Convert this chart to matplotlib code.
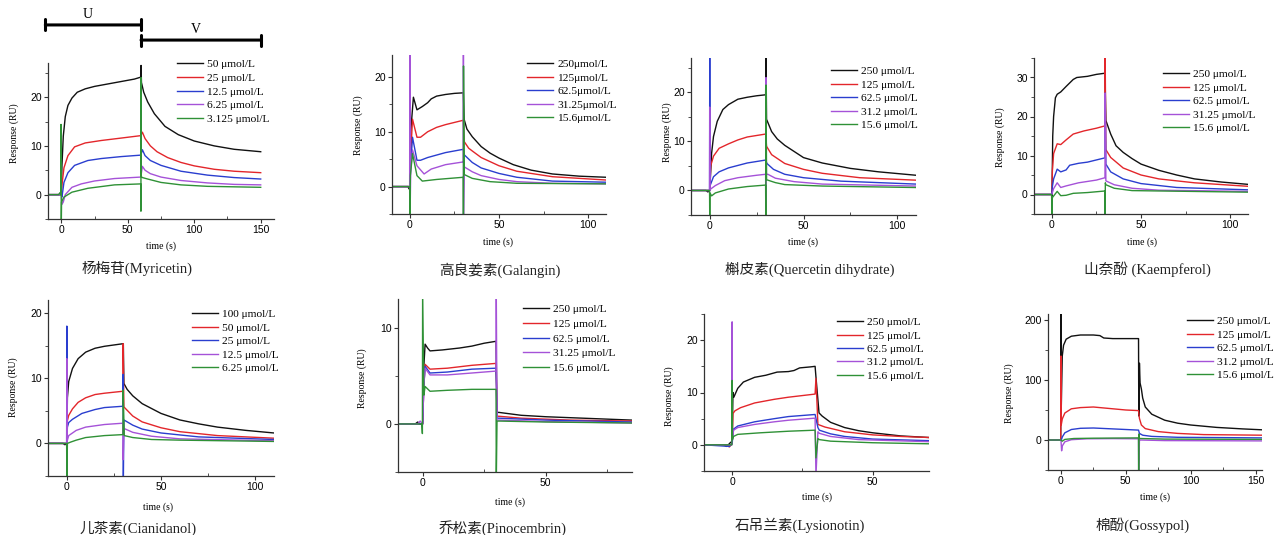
import matplotlib
matplotlib.use('Agg')
import matplotlib.pyplot as plt
from matplotlib.ticker import MultipleLocator

W, H = 1277, 535

# ---- 杨梅苷 (Myricetin) ----
myr_labels = ['50 μmol/L', '25 μmol/L', '12.5 μmol/L', '6.25 μmol/L', '3.125 μmol/L']
myr_t = [
    [-10, -1, 0, 0.5, 1.5, 3, 5, 8, 12, 18, 25, 35, 45, 55, 59.8, 60, 60.3, 62, 65, 70, 78, 88, 100, 115, 130, 150],
    [-10, 0, 0.5, 2, 5, 10, 18, 30, 45, 59.8, 61, 63, 67, 72, 80, 90, 100, 115, 130, 150],
    [-10, 0, 0.5, 2, 5, 10, 20, 30, 45, 59.8, 61, 63, 67, 75, 90, 110, 130, 150],
    [-10, 0, 0.5, 1.5, 3, 8, 15, 25, 40, 59.8, 61, 63, 67, 75, 90, 110, 130, 150],
    [-10, -2, -1, -0.3, -0.2, 0, 0.2, 2, 8, 20, 40, 59.8, 59.9, 60, 60.1, 61, 65, 75, 90, 110, 150],
]
myr_y = [
    [0, 0, 0, 6, 12, 16, 18.3, 19.8, 21, 21.7, 22.2, 22.7, 23.2, 23.7, 24.1, 26.5, 23, 21, 19, 16.6, 14, 12.3, 11, 10, 9.3, 8.8],
    [0, 0, 2, 5.5, 8, 9.8, 10.6, 11.1, 11.6, 12.1, 12.8, 11.5, 10, 8.8, 7.6, 6.6, 5.9, 5.2, 4.8, 4.5],
    [0, 0, -0.5, 2.5, 4.5, 6, 7, 7.4, 7.8, 8.1, 9.2, 8, 7, 6, 4.8, 4, 3.5, 3.2],
    [0, 0, -2, -1.5, 0, 1.5, 2.2, 2.8, 3.3, 3.6, 5.8, 5, 4.3, 3.6, 2.9, 2.4, 2.1, 2],
    [0, 0, 0.4, 0, 14.4, -6, -1.5, -0.5, 0.5, 1.3, 2, 2.2, -3.4, 24, 3.7, 3.5, 3.2, 2.5, 2, 1.7, 1.5],
]
phase_names = ['U', 'V']
phase_start = [-12, 60]
phase_end = [60, 150]

# ---- 高良姜素 (Galangin) ----
gal_labels = ['250μmol/L', '125μmol/L', '62.5μmol/L', '31.25μmol/L', '15.6μmol/L']
gal_t = [
    [-10, -1, -0.5, 0, 0.5, 2, 4, 7, 10, 12, 15, 20, 25, 30, 30.5, 32, 35, 40, 45, 50, 58, 68, 80, 95, 110],
    [-10, 0, 0.5, 1.5, 4, 6, 10, 15, 20, 25, 30, 30.5, 33, 35, 40, 50, 60, 80, 110],
    [-10, 0, 0.5, 1.5, 4, 6, 10, 20, 30, 30.5, 35, 40, 50, 60, 80, 110],
    [-10, -0.1, 0, 0.1, 0.5, 1.5, 4, 8, 12, 20, 30, 30.05, 30.1, 30.5, 35, 40, 50, 60, 80, 110],
    [-10, -0.1, 0, 0.3, 1.5, 4, 7, 15, 30, 30.05, 30.1, 30.5, 35, 45, 60, 110],
]
gal_y = [
    [0, 0, -0.4, 0, 10, 16.3, 14, 14.6, 15.3, 16, 16.5, 16.8, 17, 17.1, 12.2, 10.5, 9.1, 7.3, 6.1, 5.2, 4, 3, 2.3, 1.9, 1.7],
    [0, 0, 6, 12.3, 9, 9, 10, 10.8, 11.3, 11.7, 12.1, 8.2, 7, 6.5, 5.3, 3.8, 2.8, 1.8, 1.2],
    [0, 0, 4, 9, 4.8, 4.8, 5.3, 6.2, 6.8, 5.8, 4.4, 3.4, 2.4, 1.7, 1, 0.8],
    [0, 0, 30, -6, 3, 6.7, 3.8, 2.3, 3.2, 4, 4.5, 30, -6, 3.6, 2.7, 2, 1.3, 0.9, 0.6, 0.5],
    [0, 0, -6, 2, 6, 2, 1, 1.3, 1.7, -6, 22, 2.2, 1.5, 0.9, 0.6, 0.5],
]

# ---- 槲皮素 (Quercetin dihydrate) ----
que_labels = ['250 μmol/L', '125 μmol/L', '62.5 μmol/L', '31.2 μmol/L', '15.6 μmol/L']
que_t = [
    [-10, -2, -1, 0, 1, 2, 4, 7, 10, 15, 20, 25, 29.8, 30, 30.3, 33, 36, 40, 50, 60, 75, 90, 110],
    [-10, 0, 0.5, 2, 5, 10, 15, 20, 29.8, 30.3, 33, 40, 50, 60, 80, 110],
    [-10, -0.1, 0, 0.1, 0.5, 2, 5, 10, 20, 29.8, 30.5, 34, 40, 50, 70, 110],
    [-10, -0.1, 0, 0.1, 0.5, 3, 8, 15, 25, 29.8, 29.9, 30, 30.2, 31, 35, 45, 60, 110],
    [-10, -0.1, 0, 0.1, 1, 3, 10, 20, 29.8, 29.9, 30, 30.3, 31, 35, 40, 60, 110],
]
que_y = [
    [0, 0, -0.3, 0, 7.6, 11, 14.1, 16.5, 17.5, 18.6, 19, 19.3, 19.5, 27, 14.5, 12, 10.5, 9.2, 6.7, 5.6, 4.5, 3.8, 3.1],
    [0, 0, 5, 7, 8.6, 9.5, 10.3, 10.9, 11.5, 9, 7.3, 5.5, 4.3, 3.5, 2.6, 2.1],
    [0, 0, 28, 1, 1.3, 2.8, 3.8, 4.6, 5.6, 6.2, 5.5, 4.3, 3.3, 2.6, 1.9, 1.3],
    [0, 0, 17, 0, 0.3, 1, 2, 2.6, 3.1, 3.3, -4, 23, 3.3, 3.3, 2.5, 1.8, 1.3, 0.9],
    [0, 0, -6, -0.5, -1.1, -0.5, 0.3, 0.8, 1.1, -6, 21.5, 2.2, 2.1, 1.6, 1.2, 0.9, 0.6],
]

# ---- 山奈酚 (Kaempferol) ----
kae_labels = ['250 μmol/L', '125 μmol/L', '62.5 μmol/L', '31.25 μmol/L', '15.6 μmol/L']
kae_t = [
    [-10, -0.1, 0, 0.1, 0.5, 1, 2, 3, 5, 8, 12, 14, 20, 25, 29.8, 30.3, 33, 36, 40, 45, 50, 60, 70, 80, 95, 110],
    [-10, 0, 0.3, 1, 3, 5, 8, 12, 18, 25, 29.8, 29.9, 30.3, 33, 40, 50, 60, 80, 110],
    [-10, 0, 0.3, 1, 3, 5, 8, 10, 15, 20, 29.8, 29.9, 30.3, 33, 40, 50, 70, 110],
    [-10, 0, 0.3, 1, 3, 5, 8, 15, 25, 29.8, 29.9, 30.3, 35, 45, 60, 110],
    [-10, -0.1, 0, 0.3, 3, 5, 8, 12, 20, 29.8, 29.9, 30, 30.3, 35, 45, 110],
]
kae_y = [
    [0, 0, -6, 0, 15, 20, 24.8, 25.7, 26.3, 27.7, 29.5, 30, 30.3, 30.8, 31.1, 19, 15.5, 12.5, 10.8, 9.2, 7.8, 6.2, 5, 4, 3.2, 2.6],
    [0, 0, 6, 10.5, 13, 12.8, 14, 15.5, 16.3, 17, 17.6, 36, 11.5, 9.5, 6.8, 5, 4, 3, 2.1],
    [0, 0, 2, 4, 6.5, 5.8, 6.3, 7.5, 8, 8.3, 9.4, 26, 7.8, 5.8, 4, 2.8, 1.8, 1.2],
    [0, 0, 0.5, 1.5, 3, 1.8, 2.2, 3, 3.7, 4.3, 26, 3.5, 2.5, 1.6, 1.1, 0.8],
    [0, 0, -6, -0.8, 0.8, -0.3, -0.2, 0.3, 0.5, 0.9, -6, 3, 2.5, 1.6, 1, 0.6],
]

# ---- 儿茶素 (Cianidanol) ----
cia_labels = ['100 μmol/L', '50 μmol/L', '25 μmol/L', '12.5 μmol/L', '6.25 μmol/L']
cia_t = [
    [-10, -2, -1, 0, 0.3, 1, 3, 6, 10, 15, 20, 25, 30, 30.3, 32, 35, 40, 50, 60, 70, 80, 95, 110],
    [-10, 0, 0.3, 1, 3, 6, 10, 15, 20, 29.8, 29.9, 30.3, 35, 40, 50, 60, 80, 110],
    [-10, -0.1, 0, 0.1, 0.3, 1, 3, 8, 15, 20, 29.8, 29.9, 30, 30.3, 35, 40, 50, 70, 110],
    [-10, -0.1, 0, 0.1, 0.3, 1, 5, 10, 20, 29.8, 29.9, 30.3, 35, 45, 60, 110],
    [-10, -0.1, 0, 0.3, 2, 5, 10, 20, 29.8, 29.9, 30.5, 35, 45, 60, 110],
]
cia_y = [
    [0, 0, -0.2, 0, 7, 9.5, 11.5, 13, 14, 14.6, 14.9, 15.1, 15.3, 9.2, 8.3, 7.3, 6.1, 4.6, 3.6, 3, 2.5, 2, 1.6],
    [0, 0, 3.5, 4.3, 5.3, 6.3, 7, 7.5, 7.7, 8, 15.3, 5.6, 4.2, 3.3, 2.4, 1.8, 1.2, 0.8],
    [0, 0, 18, 1, 2.5, 3.2, 3.7, 4.6, 5.2, 5.5, 5.7, 10.6, -6, 3.6, 2.8, 2.2, 1.6, 1, 0.6],
    [0, 0, 13, 0, 0.5, 1.2, 2, 2.5, 2.9, 3.1, -2.5, 2.3, 1.7, 1.1, 0.7, 0.4],
    [0, 0, -6, 0, 0.2, 0.5, 0.9, 1.2, 1.35, 8.2, 1.2, 0.9, 0.6, 0.5, 0.3],
]

# ---- 乔松素 (Pinocembrin) ----
pin_labels = ['250 μmol/L', '125 μmol/L', '62.5 μmol/L', '31.25 μmol/L', '15.6 μmol/L']
pin_t = [
    [-10, -3, -2, -1, 0, 0.5, 1, 2, 3, 8, 15, 20, 25, 29.8, 30.2, 31, 40, 50, 60, 85],
    [-10, 0, 0.5, 1, 3, 10, 20, 29.8, 30.2, 31, 40, 60, 85],
    [-10, 0, 0.5, 1, 3, 10, 20, 29.8, 30.2, 31, 50, 85],
    [-10, -2, -1, 0, 0.5, 1, 3, 10, 20, 29.8, 29.9, 30.2, 31, 50, 85],
    [-10, -0.3, -0.1, 0, 0.5, 1, 3, 10, 20, 29.8, 29.9, 30.2, 31, 50, 85],
]
pin_y = [
    [0, 0, 0.2, 0, 0, 6, 8.3, 7.9, 7.6, 7.7, 7.9, 8.1, 8.4, 8.6, 1.2, 1.2, 0.9, 0.75, 0.65, 0.4],
    [0, 0, 4, 6.2, 5.7, 5.8, 6.1, 6.3, 0.8, 0.8, 0.6, 0.4, 0.3],
    [0, 0, 4, 6, 5.3, 5.4, 5.7, 5.8, 0.6, 0.6, 0.4, 0.2],
    [0, 0, 0.3, 0, 4, 5.8, 5.1, 5.1, 5.3, 5.5, 13.5, 0.4, 0.4, 0.25, 0.1],
    [0, 0, -1, 14, 3, 3.9, 3.4, 3.5, 3.6, 3.6, -6, 0.3, 0.3, 0.2, 0.1],
]

# ---- 石吊兰素 (Lysionotin) ----
lys_labels = ['250 μmol/L', '125 μmol/L', '62.5 μmol/L', '31.2 μmol/L', '15.6 μmol/L']
lys_t = [
    [-10, -3, -2, -1, -0.5, 0, 0.3, 0.6, 2, 4, 8, 12, 16, 20, 22, 24, 28, 29.5, 29.8, 30.9, 32, 35, 40, 45, 50, 60, 70],
    [-10, -2, -1, 0, 0.3, 1, 3, 8, 15, 20, 29.5, 29.8, 30.5, 33, 40, 50, 60, 70],
    [-10, -1, 0, 0.5, 2, 8, 15, 20, 29.5, 30.5, 31, 35, 40, 50, 70],
    [-10, -0.1, 0, 0.1, 0.5, 2, 8, 15, 20, 29.5, 29.8, 30.5, 31, 35, 45, 70],
    [-10, -0.1, 0, 0.1, 0.5, 2, 10, 20, 29.5, 29.8, 30.5, 31, 35, 50, 70],
]
lys_y = [
    [0, 0, -0.3, 0.2, 0.5, 0.3, 10, 9.1, 10.8, 12, 12.9, 13.3, 13.9, 14, 14.2, 14.7, 14.9, 15, 13, 6.1, 5.5, 4.3, 3.3, 2.7, 2.3, 1.7, 1.4],
    [0, 0, -0.4, 0.2, 6, 6.5, 7.1, 8, 8.7, 9.1, 9.7, 12.7, 3.9, 3.4, 2.5, 1.9, 1.6, 1.4],
    [0, -0.3, 0.2, 3, 3.6, 4.4, 5, 5.4, 5.8, 3.3, 2.8, 2.1, 1.6, 1.1, 0.8],
    [0, 0, 23.5, 1, 2.8, 3.3, 3.9, 4.4, 4.7, 5.1, -6, 2.5, 2.2, 1.6, 1, 0.6],
    [0, 0, 12.3, 1, 1.6, 2, 2.3, 2.6, 2.8, -2.5, 1.2, 1, 0.7, 0.4, 0.2],
]

# ---- 棉酚 (Gossypol) ----
gos_labels = ['250 μmol/L', '125 μmol/L', '62.5 μmol/L', '31.2 μmol/L', '15.6 μmol/L']
gos_t = [
    [-10, -0.2, 0, 0.2, 1, 2, 4, 8, 15, 25, 30, 33, 40, 50, 59.8, 60, 60.5, 61, 62, 63, 65, 70, 80, 90, 100, 120, 140, 155],
    [-10, -0.2, 0, 0.2, 1, 3, 8, 15, 25, 40, 50, 59.8, 60.5, 62, 65, 75, 90, 110, 155],
    [-10, 0, 0.3, 1, 3, 8, 15, 25, 40, 59.8, 60.5, 63, 70, 90, 155],
    [-10, 0, 0.5, 1, 3, 8, 20, 40, 59.8, 59.9, 60.5, 61, 80, 155],
    [-10, 0, 1, 3, 10, 25, 59.8, 59.9, 60, 60.5, 61, 80, 155],
]
gos_y = [
    [0, 0, 215, 50, 140, 158, 168, 173, 175, 175, 174, 170, 169, 169, 169, 40, 128, 95, 85, 70, 55, 43, 33, 28, 25, 21, 18.5, 17],
    [0, 0, 140, 25, 35, 45, 52, 54, 55, 52, 50, 49, 36, 25, 19, 14, 11, 9, 8],
    [0, 0, 0, 5, 12, 17.5, 19.5, 20, 18.5, 16.5, 11, 8, 6, 4.5, 3.5],
    [0, 0, -18, -10, -3, 0.5, 2, 2.3, 2, -60, 0, 0, -1, -1.5],
    [0, 0, -2, 1, 2.5, 3, 3.5, -60, 10, 2.5, 2.5, 1.5, 1],
]

colors = ['#111111', '#e3262b', '#2a3ecf', '#a552d8', '#2f9136']
serif = ['Liberation Serif', 'Noto Sans CJK SC']

panels = [
    # data, labels, title, axes box px (l, t, r, b), xlim, ylim, xstep, ystep,
    # title centre, ylabel centre, xlabel centre, legend (x, first row y), label gap
    (myr_t, myr_y, myr_labels, '杨梅苷(Myricetin)', (48, 63, 274, 219), (-10, 160), (-5, 27), 50, 10,
     (137, 268), (14, 133), (161, 246), (177, 63), 0.32),
    (gal_t, gal_y, gal_labels, '高良姜素(Galangin)', (392, 55, 606, 214), (-10, 110), (-5, 24), 50, 10,
     (500, 270), (358, 125), (498, 242), (527, 63), 0.3),
    (que_t, que_y, que_labels, '槲皮素(Quercetin dihydrate)', (691, 58, 916, 215), (-10, 110), (-5, 27), 50, 10,
     (810, 269), (667, 132), (803, 242), (831, 70), 0.3),
    (kae_t, kae_y, kae_labels, '山奈酚 (Kaempferol)', (1034, 58, 1248, 214), (-10, 110), (-5, 35), 50, 10,
     (1147, 269), (1000, 137), (1142, 242), (1163, 73), 0.3),
    (cia_t, cia_y, cia_labels, '儿茶素(Cianidanol)', (48, 300, 274, 476), (-10, 110), (-5, 22), 50, 10,
     (138, 528), (13, 387), (158, 507), (192, 313), 0.3),
    (pin_t, pin_y, pin_labels, '乔松素(Pinocembrin)', (398, 299, 632, 472), (-10, 85), (-5, 13), 50, 10,
     (503, 528), (362, 378), (510, 502), (523, 308), 0.4),
    (lys_t, lys_y, lys_labels, '石吊兰素(Lysionotin)', (704, 314, 929, 471), (-10, 70), (-5, 25), 50, 10,
     (800, 525), (669, 396), (817, 497), (837, 321), 0.29),
    (gos_t, gos_y, gos_labels, '棉酚(Gossypol)', (1048, 314, 1262, 470), (-10, 155), (-50, 210), 50, 100,
     (1143, 525), (1009, 393), (1155, 497), (1187, 320), 0.3),
]

fig = plt.figure(figsize=(W / 100, H / 100), dpi=100)

axes = []
for (ts, ys, labels, title, box, xlim, ylim, xstep, ystep,
     title_c, ylab_c, xlab_c, leg_c, gap) in panels:
    l, t, r, b = box
    ax = fig.add_axes([l / W, 1 - b / H, (r - l) / W, (b - t) / H])
    for tt, yy, lab, col in zip(ts, ys, labels, colors):
        ax.plot(tt, yy, color=col, lw=1.0, label=lab)
    ax.set_xlim(*xlim)
    ax.set_ylim(*ylim)
    ax.spines['top'].set_visible(False)
    ax.spines['right'].set_visible(False)
    for s in ['left', 'bottom']:
        ax.spines[s].set_linewidth(0.9)
        ax.spines[s].set_color('#333333')
    ax.xaxis.set_major_locator(MultipleLocator(xstep))
    ax.xaxis.set_minor_locator(MultipleLocator(xstep / 2))
    ax.yaxis.set_major_locator(MultipleLocator(ystep))
    ax.yaxis.set_minor_locator(MultipleLocator(ystep / 2))
    ax.tick_params(which='major', direction='out', length=3, width=0.8,
                   labelsize=7.5, pad=1.5, color='#333333')
    ax.tick_params(axis='x', which='minor', direction='in', length=2.5, width=0.6, color='#333333')
    ax.tick_params(axis='y', which='minor', direction='out', length=2, width=0.6, color='#333333')
    for tl in ax.get_xticklabels() + ax.get_yticklabels():
        tl.set_family('Liberation Sans')

    ax.legend(loc='upper left', bbox_to_anchor=(leg_c[0] / W, 1 - (leg_c[1] - 3.5) / H),
              bbox_transform=fig.transFigure, frameon=False,
              prop={'family': 'Liberation Serif', 'size': 8.2},
              handlelength=2.3, handletextpad=0.35, labelspacing=gap,
              borderpad=0, borderaxespad=0)

    fig.text(ylab_c[0] / W, 1 - ylab_c[1] / H, 'Response (RU)', rotation=90,
             ha='center', va='center', family='Liberation Serif', fontsize=7)
    fig.text(xlab_c[0] / W, 1 - xlab_c[1] / H, 'time (s)',
             ha='center', va='center', family='Liberation Serif', fontsize=7)
    fig.text(title_c[0] / W, 1 - title_c[1] / H, title,
             ha='center', va='center', family=serif, fontsize=10.5, color='#222222')
    axes.append(ax)

# association / dissociation bars above the first panel
ax1 = axes[0]
bar_y = [1.244, 1.147]
for name, x0, x1, fy in zip(phase_names, phase_start, phase_end, bar_y):
    ax1.annotate('', xy=(x1, fy), xytext=(x0, fy), xycoords=ax1.get_xaxis_transform(),
                 arrowprops=dict(arrowstyle='|-|, widthA=0.4, widthB=0.4', lw=2.2,
                                 color='black', shrinkA=0, shrinkB=0),
                 annotation_clip=False)
    ax1.text((x0 + x1) / 2 - 4, fy + 0.065, name, transform=ax1.get_xaxis_transform(),
             ha='center', va='center', family='Liberation Serif', fontsize=10)

fig.savefig('out.png', dpi=100)
